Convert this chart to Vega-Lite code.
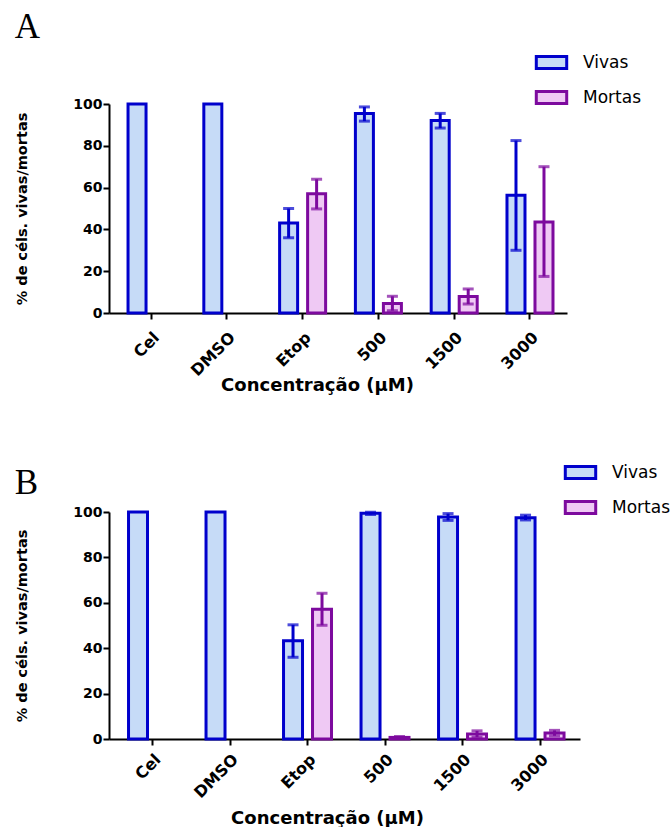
{
  "$schema": "https://vega.github.io/schema/vega-lite/v6.json",
  "background": "white",
  "padding": {"left": 14, "top": 10, "right": 0, "bottom": 0},
  "spacing": 68,
  "config": {
    "view": {"stroke": null},
    "font": "DejaVu Sans",
    "axis": {
      "domainColor": "black", "domainWidth": 2, "tickColor": "black", "tickWidth": 2, "tickSize": 6,
      "labelColor": "black", "labelFont": "DejaVu Sans", "labelFontWeight": "bold", "labelFontSize": 14,
      "titleFont": "DejaVu Sans", "titleFontWeight": "bold", "titleColor": "black", "grid": false
    },
    "legend": {
      "symbolType": "M-1.9,-0.75H1.9V0.75H-1.9Z", "symbolSize": 256, "symbolStrokeWidth": 3,
      "labelFont": "DejaVu Sans", "labelFontSize": 17, "labelColor": "black", "labelOffset": 22,
      "rowPadding": 10, "padding": 0, "title": null, "orient": "none"
    },
    "title": {"font": "Liberation Serif", "fontSize": 35, "fontWeight": "normal", "anchor": "start", "frame": "bounds", "color": "black"}
  },
  "resolve": {
    "scale": {"x": "independent", "y": "independent", "xOffset": "independent", "fill": "independent", "stroke": "independent", "color": "independent"},
    "legend": {"fill": "independent", "stroke": "independent"}
  },
  "datasets": {
    "d": [
      {"painel": "A", "conc": "Cel", "grupo": "Vivas", "media": 100},
      {"painel": "A", "conc": "DMSO", "grupo": "Vivas", "media": 100},
      {"painel": "A", "conc": "Etop", "grupo": "Vivas", "media": 43.1, "inf": 36, "sup": 50},
      {"painel": "A", "conc": "Etop", "grupo": "Mortas", "media": 57, "inf": 49.8, "sup": 64},
      {"painel": "A", "conc": "500", "grupo": "Vivas", "media": 95.4, "inf": 91.8, "sup": 98.6},
      {"painel": "A", "conc": "500", "grupo": "Mortas", "media": 4.6, "inf": 1.1, "sup": 8},
      {"painel": "A", "conc": "1500", "grupo": "Vivas", "media": 92.1, "inf": 88.5, "sup": 95.5},
      {"painel": "A", "conc": "1500", "grupo": "Mortas", "media": 7.9, "inf": 4.3, "sup": 11.5},
      {"painel": "A", "conc": "3000", "grupo": "Vivas", "media": 56.3, "inf": 30, "sup": 82.5},
      {"painel": "A", "conc": "3000", "grupo": "Mortas", "media": 43.6, "inf": 17.5, "sup": 70},
      {"painel": "B", "conc": "Cel", "grupo": "Vivas", "media": 100},
      {"painel": "B", "conc": "DMSO", "grupo": "Vivas", "media": 100},
      {"painel": "B", "conc": "Etop", "grupo": "Vivas", "media": 43.3, "inf": 36, "sup": 50.3},
      {"painel": "B", "conc": "Etop", "grupo": "Mortas", "media": 57.2, "inf": 50.1, "sup": 64.2},
      {"painel": "B", "conc": "500", "grupo": "Vivas", "media": 99.4, "inf": 98.9, "sup": 99.9},
      {"painel": "B", "conc": "500", "grupo": "Mortas", "media": 0.7, "inf": 0.3, "sup": 1.1},
      {"painel": "B", "conc": "1500", "grupo": "Vivas", "media": 97.8, "inf": 96.3, "sup": 99.3},
      {"painel": "B", "conc": "1500", "grupo": "Mortas", "media": 2.2, "inf": 0.8, "sup": 3.6},
      {"painel": "B", "conc": "3000", "grupo": "Vivas", "media": 97.5, "inf": 96.5, "sup": 98.6},
      {"painel": "B", "conc": "3000", "grupo": "Mortas", "media": 2.6, "inf": 1.4, "sup": 3.8}
    ]
  },
  "vconcat": [
    {
      "title": {"text": "A", "offset": 8},
      "width": 458, "height": 209,
      "data": {"name": "d"},
      "transform": [{"filter": "datum.painel == 'A'"}],
      "encoding": {
        "x": {"field": "conc", "type": "nominal", "sort": ["Cel", "DMSO", "Etop", "500", "1500", "3000"],
              "scale": {"paddingInner": 0.393, "paddingOuter": 0.218, "align": 0.576},
              "axis": {"title": "Concentração (μM)", "titleFontSize": 18, "titleX": 208, "labelAngle": -45, "labelAlign": "right", "labelBaseline": "top", "labelFontSize": 16, "labelPadding": 10, "titlePadding": -2}},
        "xOffset": {"field": "grupo", "type": "nominal", "scale": {"domain": ["Vivas", "Mortas"], "paddingInner": 0.357, "paddingOuter": 0}}
      },
      "layer": [
        {
          "mark": {"type": "bar", "strokeWidth": 3},
          "encoding": {
            "y": {"field": "media", "type": "quantitative", "scale": {"domain": [0, 100], "nice": false},
                  "axis": {"title": "% de céls. vivas/mortas", "titleFontSize": 14.5, "values": [0, 20, 40, 60, 80, 100], "labelPadding": 1, "titlePadding": 43}},
            "fill": {"field": "grupo", "type": "nominal", "scale": {"domain": ["Vivas", "Mortas"], "range": ["#c6dbf7", "#efc9f4"]},
                     "legend": {"legendX": 433, "legendY": -51}},
            "stroke": {"field": "grupo", "type": "nominal", "scale": {"domain": ["Vivas", "Mortas"], "range": ["#0000cc", "#7d0a9e"]},
                       "legend": {"legendX": 433, "legendY": -51}}
          }
        },
        {
          "transform": [{"filter": "isValid(datum.inf)"}],
          "mark": {"type": "bar", "width": 3},
          "encoding": {
            "y": {"field": "inf", "type": "quantitative"},
            "y2": {"field": "sup"},
            "color": {"field": "grupo", "type": "nominal", "scale": {"domain": ["Vivas", "Mortas"], "range": ["#0000cc", "#7d0a9e"]}, "legend": null}
          }
        },
        {
          "transform": [{"filter": "isValid(datum.inf)"}, {"fold": ["inf", "sup"], "as": ["lado", "valor"]}],
          "mark": {"type": "tick", "size": 11, "thickness": 3, "orient": "horizontal"},
          "encoding": {
            "y": {"field": "valor", "type": "quantitative"},
            "color": {"field": "grupo", "type": "nominal", "scale": {"domain": ["Vivas", "Mortas"], "range": ["#0000cc", "#7d0a9e"]}, "legend": null}
          }
        }
      ]
    },
    {
      "title": {"text": "B", "offset": -38},
      "width": 471, "height": 227,
      "data": {"name": "d"},
      "transform": [{"filter": "datum.painel == 'B'"}],
      "encoding": {
        "x": {"field": "conc", "type": "nominal", "sort": ["Cel", "DMSO", "Etop", "500", "1500", "3000"],
              "scale": {"paddingInner": 0.381, "paddingOuter": 0.229, "align": 0.55},
              "axis": {"title": "Concentração (μM)", "titleFontSize": 18, "titleX": 218, "labelAngle": -45, "labelAlign": "right", "labelBaseline": "top", "labelFontSize": 16, "labelPadding": 6, "titlePadding": 9}},
        "xOffset": {"field": "grupo", "type": "nominal", "scale": {"domain": ["Vivas", "Mortas"], "paddingInner": 0.345, "paddingOuter": 0}}
      },
      "layer": [
        {
          "mark": {"type": "bar", "strokeWidth": 3},
          "encoding": {
            "y": {"field": "media", "type": "quantitative", "scale": {"domain": [0, 100], "nice": false},
                  "axis": {"title": "% de céls. vivas/mortas", "titleFontSize": 14.5, "values": [0, 20, 40, 60, 80, 100], "labelPadding": 1, "titlePadding": 43}},
            "fill": {"field": "grupo", "type": "nominal", "scale": {"domain": ["Vivas", "Mortas"], "range": ["#c6dbf7", "#efc9f4"]},
                     "legend": {"legendX": 462, "legendY": -49}},
            "stroke": {"field": "grupo", "type": "nominal", "scale": {"domain": ["Vivas", "Mortas"], "range": ["#0000cc", "#7d0a9e"]},
                       "legend": {"legendX": 462, "legendY": -49}}
          }
        },
        {
          "transform": [{"filter": "isValid(datum.inf)"}],
          "mark": {"type": "bar", "width": 3},
          "encoding": {
            "y": {"field": "inf", "type": "quantitative"},
            "y2": {"field": "sup"},
            "color": {"field": "grupo", "type": "nominal", "scale": {"domain": ["Vivas", "Mortas"], "range": ["#0000cc", "#7d0a9e"]}, "legend": null}
          }
        },
        {
          "transform": [{"filter": "isValid(datum.inf)"}, {"fold": ["inf", "sup"], "as": ["lado", "valor"]}],
          "mark": {"type": "tick", "size": 11, "thickness": 3, "orient": "horizontal"},
          "encoding": {
            "y": {"field": "valor", "type": "quantitative"},
            "color": {"field": "grupo", "type": "nominal", "scale": {"domain": ["Vivas", "Mortas"], "range": ["#0000cc", "#7d0a9e"]}, "legend": null}
          }
        }
      ]
    }
  ]
}
